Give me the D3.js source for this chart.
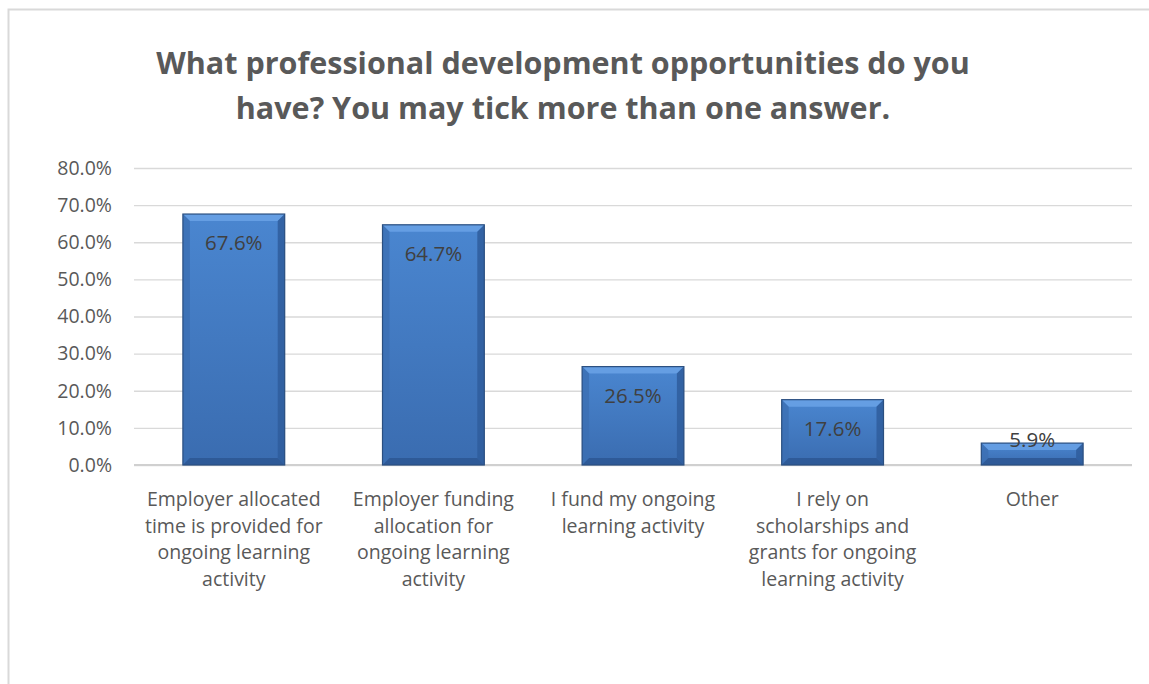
<!DOCTYPE html>
<html>
<head>
<meta charset="utf-8">
<script src="https://cdn.jsdelivr.net/npm/d3@7"></script>
<style>
  html, body { margin: 0; padding: 0; background: #fff; }
  svg { display: block; font-family: "Open Sans", Lato, sans-serif; }
</style>
</head>
<body>
<svg id="chart" width="1149" height="684"></svg>
<script>
// Survey responses: share of respondents choosing each option
const titleLines = [
  "What professional development opportunities do you",
  "have? You may tick more than one answer."
];
const categories = [
  ["Employer allocated", "time is provided for", "ongoing learning", "activity"],
  ["Employer funding", "allocation for", "ongoing learning", "activity"],
  ["I fund my ongoing", "learning activity"],
  ["I rely on", "scholarships and", "grants for ongoing", "learning activity"],
  ["Other"]
];
const values = [67.6, 64.7, 26.5, 17.6, 5.9];
const yTicks = [0, 10, 20, 30, 40, 50, 60, 70, 80];

const svg = d3.select("#chart");
const W = 1149, H = 684;
const plot = { left: 134, right: 1132, top: 168, bottom: 465 };
const FONT = "'Open Sans', Lato, sans-serif";

// Outer chart frame
svg.append("rect")
  .attr("x", 8.5).attr("y", 9.5)
  .attr("width", W + 10).attr("height", H + 10)
  .attr("fill", "#fff").attr("stroke", "#d9d9d9").attr("stroke-width", 2);

// Title
svg.append("g").selectAll("text").data(titleLines).join("text")
  .attr("x", 563).attr("y", (d, i) => 74 + i * 45)
  .attr("text-anchor", "middle")
  .attr("font-size", 30.5).attr("font-weight", "bold")
  .attr("fill", "#595959")
  .text(d => d);

const x = d3.scaleBand()
  .domain(d3.range(categories.length))
  .range([plot.left, plot.right])
  .paddingInner(0.49).paddingOuter(0.245);
const y = d3.scaleLinear().domain([0, 80]).range([plot.bottom, plot.top]);

// Gridlines and value axis
const yAxis = d3.axisLeft(y).tickValues(yTicks)
  .tickFormat(d => d3.format(".1f")(d) + "%")
  .tickSize(-(plot.right - plot.left)).tickPadding(22);
const gy = svg.append("g").attr("transform", `translate(${plot.left},0)`).call(yAxis);
gy.select(".domain").remove();
gy.selectAll(".tick line").attr("stroke", "#d9d9d9").attr("stroke-width", 1.3);
gy.selectAll(".tick text").attr("fill", "#595959").attr("font-size", 19.5)
  .attr("font-family", FONT);

// Category axis baseline
svg.append("line")
  .attr("x1", plot.left).attr("x2", plot.right)
  .attr("y1", y(0)).attr("y2", y(0))
  .attr("stroke", "#d0d0d0").attr("stroke-width", 2);

// Bar gradient
const defs = svg.append("defs");
const grad = defs.append("linearGradient").attr("id", "barFill")
  .attr("x1", 0).attr("y1", 0).attr("x2", 0).attr("y2", 1);
grad.append("stop").attr("offset", 0).attr("stop-color", "#4a86d0");
grad.append("stop").attr("offset", 1).attr("stop-color", "#3a6cb0");

const bev = 7;
const bars = svg.append("g").selectAll("g").data(values).join("g");
bars.each(function(v, i) {
  const g = d3.select(this);
  const x0 = x(i), x1 = x(i) + x.bandwidth();
  const y0 = y(v), y1 = y(0);
  const b = Math.min(bev, (y1 - y0) / 2);
  g.append("rect").attr("x", x0).attr("y", y0)
    .attr("width", x1 - x0).attr("height", y1 - y0)
    .attr("fill", "url(#barFill)");
  // bevelled edges
  const pts = a => a.map(p => p.join(",")).join(" ");
  g.append("polygon").attr("points", pts([[x0, y0], [x1, y0], [x1 - b, y0 + b], [x0 + b, y0 + b]]))
    .attr("fill", "#6aa2e6").attr("opacity", 0.85);
  g.append("polygon").attr("points", pts([[x0, y0], [x0 + b, y0 + b], [x0 + b, y1 - b], [x0, y1]]))
    .attr("fill", "#3c6fb3").attr("opacity", 0.8);
  g.append("polygon").attr("points", pts([[x1, y0], [x1 - b, y0 + b], [x1 - b, y1 - b], [x1, y1]]))
    .attr("fill", "#2f5d9c").attr("opacity", 0.85);
  g.append("polygon").attr("points", pts([[x0, y1], [x0 + b, y1 - b], [x1 - b, y1 - b], [x1, y1]]))
    .attr("fill", "#2d5895").attr("opacity", 0.9);
  g.append("rect").attr("x", x0).attr("y", y0)
    .attr("width", x1 - x0).attr("height", y1 - y0)
    .attr("fill", "none").attr("stroke", "#2b4f80").attr("stroke-width", 1.2);
});

// Value labels at the inside end of each bar
svg.append("g").selectAll("text").data(values).join("text")
  .attr("x", (d, i) => x(i) + x.bandwidth() / 2)
  .attr("y", d => (y(0) - y(d) > 40) ? y(d) + 36 : y(d) + 4)
  .attr("text-anchor", "middle")
  .attr("font-size", 20.5).attr("fill", "#404040")
  .text(d => d.toFixed(1) + "%");

// Category labels
const cat = svg.append("g").selectAll("text").data(categories).join("text")
  .attr("text-anchor", "middle").attr("font-size", 19.5).attr("fill", "#595959");
cat.each(function(lines, i) {
  d3.select(this).selectAll("tspan").data(lines).join("tspan")
    .attr("x", x(i) + x.bandwidth() / 2)
    .attr("y", (d, j) => 506 + j * 26.5)
    .text(d => d);
});
</script>
</body>
</html>
